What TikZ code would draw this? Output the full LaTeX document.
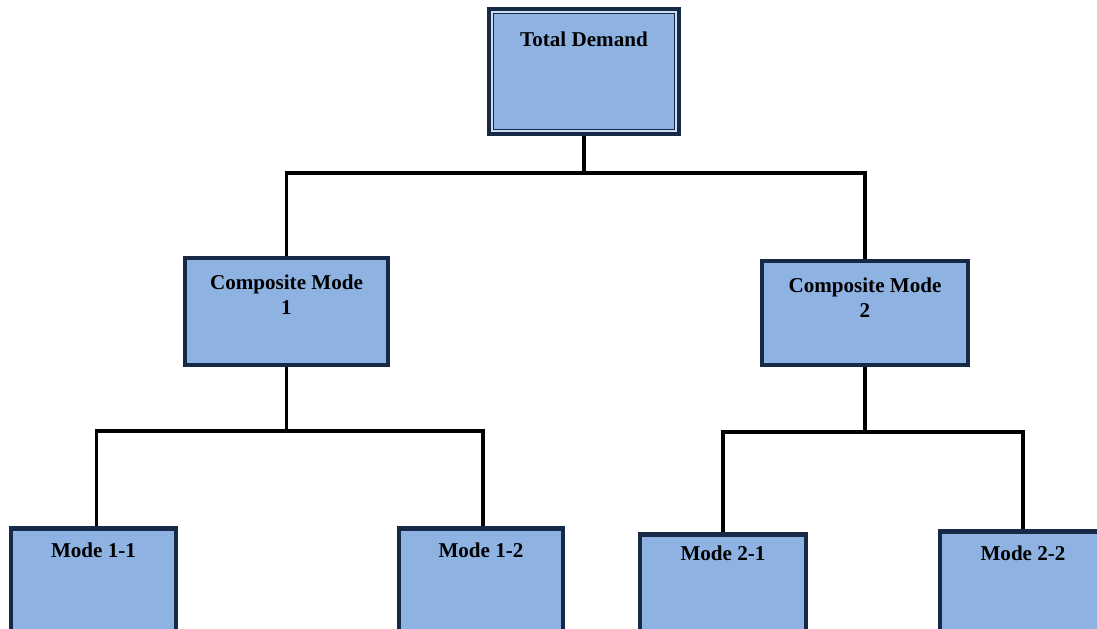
\documentclass[tikz,border=0pt]{standalone}
\usepackage{fontspec}
\setmainfont{Liberation Serif}
\usepackage{xcolor}
\usepackage{tikz}
\usetikzlibrary{positioning,calc}
\definecolor{boxnavy}{RGB}{22,42,72}
\definecolor{boxblue}{RGB}{142,179,226}
\definecolor{paleline}{RGB}{205,222,243}

\tikzset{
  modebox/.style={draw=boxnavy, fill=boxblue, line width=3.2pt, inner sep=0pt},
  boxtext/.style={font=\bfseries\fontsize{15}{17.7}\selectfont, align=center, inner sep=0pt},
  link/.style={draw=black, line width=2.8pt}
}

\begin{document}
\begin{tikzpicture}[x=0.025cm, y=-0.025cm]
  \useasboundingbox (0,0) rectangle (1097,629);
  \clip (0,0) rectangle (1097,629);

  % top
  \node[modebox, line width=4.4pt, minimum width=187*0.025cm, minimum height=122*0.025cm] (total) at (584,71.5) {};
  \draw[paleline, line width=1pt] ($(total.north west)+(4.5,4.5)$) rectangle ($(total.south east)+(-4.5,-4.5)$);
  \draw[boxnavy, line width=1pt] ($(total.north west)+(6.2,6.2)$) rectangle ($(total.south east)+(-6.2,-6.2)$);
  \node[boxtext] (totaltxt) at ($(total.north)+(0,32)$) {Total Demand};

  % second level
  \node[modebox, minimum width=203*0.025cm, minimum height=107*0.025cm] (comp1) at (286.5,311.5) {};
  \node[modebox, minimum width=206*0.025cm, minimum height=104*0.025cm] (comp2) at (865,313) {};
  \node[boxtext] (comp1txt) at ($(comp1.north)+(0,38.5)$) {Composite Mode\\1};
  \node[boxtext] (comp2txt) at ($(comp2.north)+(0,38.5)$) {Composite Mode\\2};

  % bottom level
  \node[modebox, minimum width=165*0.025cm, minimum height=130*0.025cm, anchor=north] (m11) at (93.5,526) {};
  \node[modebox, minimum width=164*0.025cm, minimum height=130*0.025cm, anchor=north] (m12) at (481,526) {};
  \node[modebox, minimum width=166*0.025cm, minimum height=130*0.025cm, anchor=north] (m21) at (723,532) {};
  \node[modebox, minimum width=166*0.025cm, minimum height=130*0.025cm, anchor=north] (m22) at (1023,529) {};
  \node[boxtext] (m11txt) at ($(m11.north)+(0,24)$) {Mode 1-1};
  \node[boxtext] (m12txt) at ($(m12.north)+(0,24)$) {Mode 1-2};
  \node[boxtext] (m21txt) at ($(m21.north)+(0,21)$) {Mode 2-1};
  \node[boxtext] (m22txt) at ($(m22.north)+(0,24)$) {Mode 2-2};

  % connectors
  \coordinate (bar0) at (584,173);
  \coordinate (bar1) at (286.5,431);
  \coordinate (bar2) at (865,432);
  \draw[link] (total.south) -- (bar0);
  \draw[link] (comp1.north) -- (comp1.north |- bar0) -- (comp2.north |- bar0) -- (comp2.north);
  \draw[link] (comp1.south) -- (bar1);
  \draw[link] ([xshift=3*0.025cm]m11.north) -- ([xshift=3*0.025cm]m11.north |- bar1) -- ([xshift=2*0.025cm]m12.north |- bar1) -- ([xshift=2*0.025cm]m12.north);
  \draw[link] (comp2.south) -- (bar2);
  \draw[link] (m21.north) -- (m21.north |- bar2) -- (m22.north |- bar2) -- (m22.north);
\end{tikzpicture}
\end{document}
